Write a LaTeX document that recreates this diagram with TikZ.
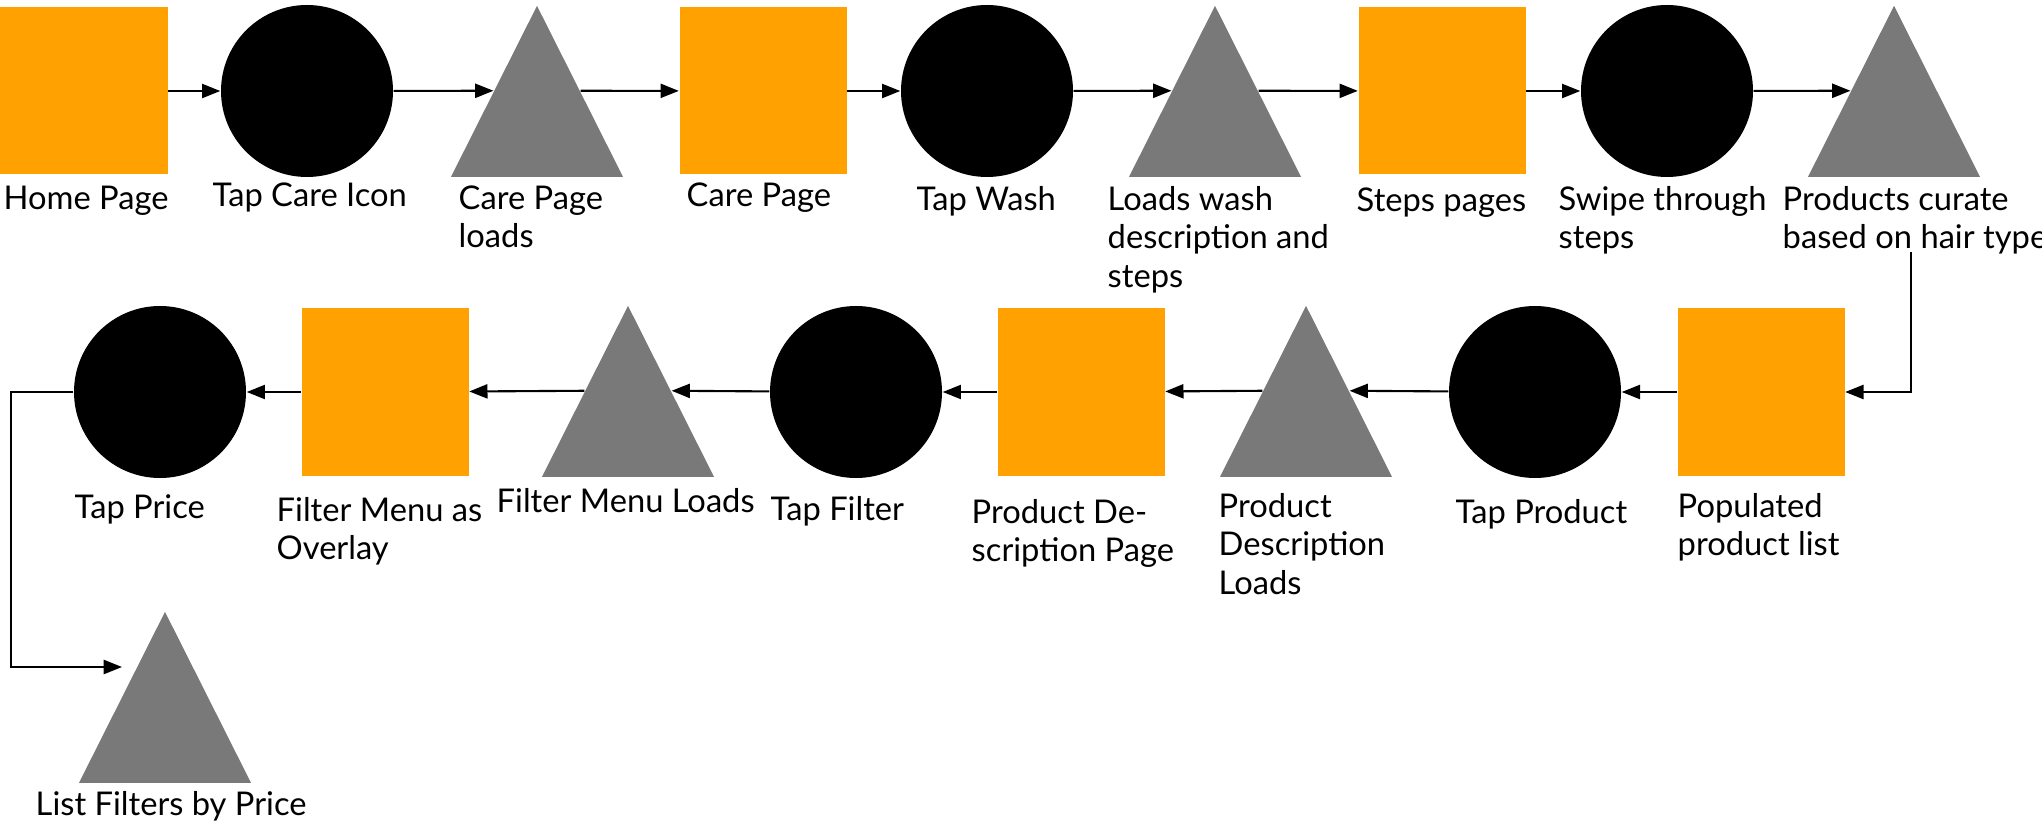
\documentclass[tikz,border=0pt]{standalone}
\usepackage{fontspec}
\setmainfont{Lato}
\usetikzlibrary{shapes.geometric,arrows.meta}
\definecolor{pageorange}{RGB}{255,161,0}
\definecolor{loadgray}{RGB}{122,121,122}

\begin{document}
\begin{tikzpicture}
  [page/.style={rectangle,fill=pageorange,minimum size=1.67cm,inner sep=0pt},
   tap/.style={circle,fill=black,minimum size=1.72cm,inner sep=0pt},
   load/.style={isosceles triangle,isosceles triangle stretches,
     shape border rotate=90,fill=loadgray,minimum width=1.72cm,
     minimum height=1.71cm,inner sep=0pt,anchor=apex},
   lbl/.style={anchor=base west,align=left,inner sep=0pt,
     font=\fontsize{9.3}{11}\selectfont},
   arr/.style={-{Triangle[length=5.2pt,width=4pt]},line width=0.6pt}]

  \useasboundingbox (0,0) rectangle (20.42,-8.29);

  % first row
  \node[page] (home) at (0.84,-0.91) {};
  \node[tap] (tapcare) at (3.07,-0.91) {};
  \node[load] (careload) at (5.37,-0.04) {};
  \node[page] (care) at (7.63,-0.91) {};
  \node[tap] (tapwash) at (9.87,-0.91) {};
  \node[load] (washload) at (12.15,-0.04) {};
  \node[page] (steps) at (14.42,-0.91) {};
  \node[tap] (swipe) at (16.67,-0.91) {};
  \node[load] (curate) at (18.94,-0.04) {};

  % second row
  \node[page] (list) at (17.61,-3.92) {};
  \node[tap] (tapprod) at (15.35,-3.92) {};
  \node[load] (descload) at (13.06,-3.04) {};
  \node[page] (desc) at (10.81,-3.92) {};
  \node[tap] (tapfilter) at (8.56,-3.92) {};
  \node[load] (filterload) at (6.28,-3.04) {};
  \node[page] (filter) at (3.85,-3.92) {};
  \node[tap] (tapprice) at (1.60,-3.92) {};
  \node[load] (pricelist) at (1.65,-6.10) {};

  % labels (base = last line)
  \node[lbl] (home-l) at (0.03,-2.10) {Home Page};
  \node[lbl] (tapcare-l) at (2.12,-2.07) {Tap Care Icon};
  \node[lbl] (careload-l) at (4.58,-2.478) {Care Page\\loads};
  \node[lbl] (care-l) at (6.86,-2.07) {Care Page};
  \node[lbl] (tapwash-l) at (9.16,-2.11) {Tap Wash};
  \node[lbl] (washload-l) at (11.07,-2.876) {Loads wash\\description and\\steps};
  \node[lbl] (steps-l) at (13.56,-2.12) {Steps pages};
  \node[lbl] (swipe-l) at (15.58,-2.488) {Swipe through\\steps};
  \node[lbl] (curate-l) at (17.82,-2.488) {Products curate\\based on hair type};
  \node[lbl] (list-l) at (16.77,-5.558) {Populated\\product list};
  \node[lbl] (tapprod-l) at (14.55,-5.23) {Tap Product};
  \node[lbl] (descload-l) at (12.18,-5.946) {Product\\Description\\Loads};
  \node[lbl] (desc-l) at (9.71,-5.618) {Product De-\\scription Page};
  \node[lbl] (tapfilter-l) at (7.70,-5.20) {Tap Filter};
  \node[lbl] (filterload-l) at (4.96,-5.12) {Filter Menu Loads};
  \node[lbl] (filter-l) at (2.76,-5.598) {Filter Menu as\\Overlay};
  \node[lbl] (tapprice-l) at (0.74,-5.18) {Tap Price};
  \node[lbl] (pricelist-l) at (0.35,-8.15) {List Filters by Price};

  \coordinate (curdown) at (19.11,-2.52);
  \coordinate (pricebend) at (0.11,-6.67);
  \coordinate (priceend) at (1.22,-6.67);

  \foreach \from/\to in {home/tapcare,tapcare/careload.left side,
      careload.right side/care,care/tapwash,tapwash/washload.left side,
      washload.right side/steps,steps/swipe,swipe/curate.left side,
      list/tapprod,tapprod/descload.right side,descload.left side/desc,
      desc/tapfilter,tapfilter/filterload.right side,
      filterload.left side/filter,filter/tapprice}
    \draw[arr] (\from) -- (\to);

  \draw[arr] (curdown) |- (list);
  \draw[arr] (tapprice.west) -| (pricebend) -- (priceend);
\end{tikzpicture}
\end{document}
